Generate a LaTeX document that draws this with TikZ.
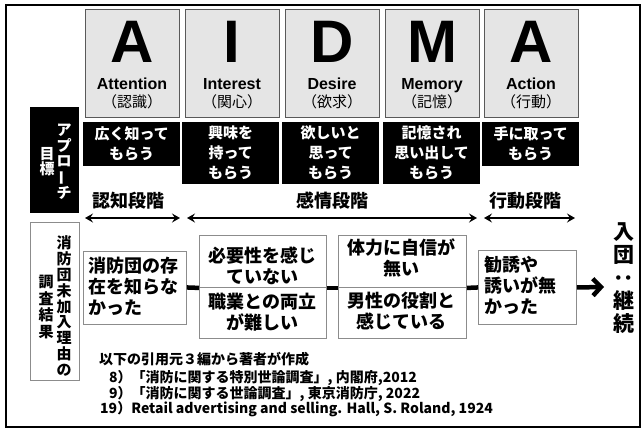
\documentclass[tikz,border=0pt]{standalone}
\usepackage{fontspec}
\usepackage{graphicx}
\setmainfont{Liberation Sans}
\newfontfamily\jp{Noto Sans CJK JP}
\usetikzlibrary{arrows.meta}
\begin{document}
\begin{tikzpicture}[x=1pt,y=-1pt,
  frame/.style={draw=black, line width=1.6pt},
  gbox/.style={draw=black!65, fill=black!10, line width=0.9pt, minimum width=94pt, minimum height=108pt, anchor=north west, inner sep=0pt},
  bbox/.style={fill=black, anchor=north west, minimum width=97pt, inner sep=0pt},
  btext/.style={text=white, font=\jp\bfseries\fontsize{15}{20}\selectfont, align=center, inner sep=0pt},
  bigletter/.style={font=\bfseries\fontsize{60}{60}\selectfont, inner sep=0pt, anchor=base},
  word/.style={font=\bfseries\fontsize{16}{16}\selectfont, inner sep=0pt, anchor=base},
  jpword/.style={font=\jp\fontsize{15}{15}\selectfont, inner sep=0pt},
  stage/.style={font=\jp\bfseries\fontsize{18}{18}\selectfont, inner sep=0pt},
  darrow/.style={{Stealth[length=8pt,width=9pt,inset=3pt]}-{Stealth[length=8pt,width=9pt,inset=3pt]}, line width=1.8pt},
  vtw/.style={text=white, font=\jp\bfseries\fontsize{15}{15.3}\selectfont, align=center, inner sep=0pt},
  vtb/.style={font=\jp\bfseries\fontsize{15}{15.9}\selectfont, align=center, inner sep=0pt},
  wbox/.style={draw=black!45, line width=0.9pt, fill=white, inner sep=0pt, anchor=north west},
  mtext/.style={font=\jp\bfseries\fontsize{18}{21}\selectfont, inner sep=0pt},
  link/.style={line width=4.5pt},
  bigarrow/.style={-{Straight Barb[length=8pt,width=17pt]}, line width=4.5pt},
  cite/.style={font=\jp\bfseries\fontsize{14}{14}\selectfont, inner sep=0pt, anchor=west}
]
\useasboundingbox (0,0) rectangle (644,429);
\draw[frame] (6,5) rectangle (640,427);

% AIDMA boxes
\foreach \i/\x/\L/\W/\J in {1/85/A/Attention/認識, 2/185/I/Interest/関心, 3/285/D/Desire/欲求, 4/385/M/Memory/記憶, 5/484/A/Action/行動} {
  \node[gbox] (g\i) at (\x,9) {};
  \node[bigletter] (L\i) at (\x+47,62) {\L};
  \node[word] (W\i) at (\x+47,89) {\W};
  \node[jpword] (J\i) at (\x+47,102) {（\J）};
}

% goals (black boxes)
\foreach \i/\x/\h/\T in {1/83/44/{広く知って\\もらう}, 2/182/62/{興味を\\持って\\もらう}, 3/282/62/{欲しいと\\思って\\もらう}, 4/383/62/{記憶され\\思い出して\\もらう}, 5/482/44/{手に取って\\もらう}} {
  \node[bbox, minimum height=\h pt] (b\i) at (\x,122) {};
  \node[btext] (bt\i) at (b\i.center) {\T};
}

% left black label
\node[fill=black, anchor=north west, minimum width=49pt, minimum height=106pt, inner sep=0pt] (lab1) at (30,107) {};
\node[vtw] (ap) at (64,162) {ア\\プ\\ロ\\\rotatebox[origin=c]{90}{ー}\\チ};
\node[vtw] (mk) at (47,162) {目\\標};

% stages
\node[stage] (s1) at (128,201) {認知段階};
\node[stage] (s2) at (332,201) {感情段階};
\node[stage] (s3) at (525,201) {行動段階};
\coordinate (a1l) at (85,218);  \coordinate (a1r) at (180,218);
\coordinate (a2l) at (187,218); \coordinate (a2r) at (477,218);
\coordinate (a3l) at (484,218); \coordinate (a3r) at (575,218);
\draw[darrow] (a1l) -- (a1r);
\draw[darrow] (a2l) -- (a2r);
\draw[darrow] (a3l) -- (a3r);

% left white label
\node[wbox, minimum width=49pt, minimum height=158pt] (lab2) at (30,222) {};
\node[vtb] (r1) at (64,306) {消\\防\\団\\未\\加\\入\\理\\由\\の};
\node[vtb, font=\jp\bfseries\fontsize{15}{16.5}\selectfont] (r2) at (46,307) {調\\査\\結\\果};

% survey result boxes
\node[wbox, minimum width=103pt, minimum height=73pt] (m1) at (83,250.5) {};
\node[mtext, align=left, anchor=west] (t1) at (88,286) {消防団の存\\在を知らな\\かった};
\node[wbox, minimum width=127pt, minimum height=52pt] (m2t) at (199,235) {};
\node[wbox, minimum width=127pt, minimum height=51pt] (m2b) at (199,287) {};
\node[mtext, align=center] (t2t) at (262.5,266) {必要性を感じ\\ていない};
\node[mtext, align=center] (t2b) at (262.5,312.5) {職業との両立\\が難しい};
\node[wbox, minimum width=128pt, minimum height=52pt] (m3t) at (338,235) {};
\node[wbox, minimum width=128pt, minimum height=51pt] (m3b) at (338,287) {};
\node[mtext, align=center] (t3t) at (401,258) {体力に自信が\\無い};
\node[mtext, align=center] (t3b) at (401,311.5) {男性の役割と\\感じている};
\node[wbox, minimum width=98pt, minimum height=74pt] (m4) at (478,250) {};
\node[mtext, align=left, anchor=west] (t4) at (484,285) {勧誘や\\誘いが無\\かった};

\draw[link] (m1.east) -- (m2t.south west);
\draw[link] (m2t.south east) -- (m3t.south west);
\draw[link] (m3t.south east) -- (m4.west);
\coordinate (endpt) at (604,287);
\draw[bigarrow] (m4.east) -- (endpt);

\node[font=\jp\bfseries\fontsize{21}{23}\selectfont, align=center, inner sep=0pt] (goal) at (624,278) {入\\団\\\rotatebox[origin=c]{90}{：}\\継\\続};

% citations
\node[cite] (c0) at (99,359) {以下の引用元３編から著者が作成};
\node[cite] (c1) at (109,378) {8）「消防に関する特別世論調査」, 内閣府,2012};
\node[cite] (c2) at (109,394) {9）「消防に関する世論調査」, 東京消防庁, 2022};
\node[cite] (c3) at (100,409) {19）Retail advertising and selling. Hall, S. Roland, 1924};
\end{tikzpicture}
\end{document}
